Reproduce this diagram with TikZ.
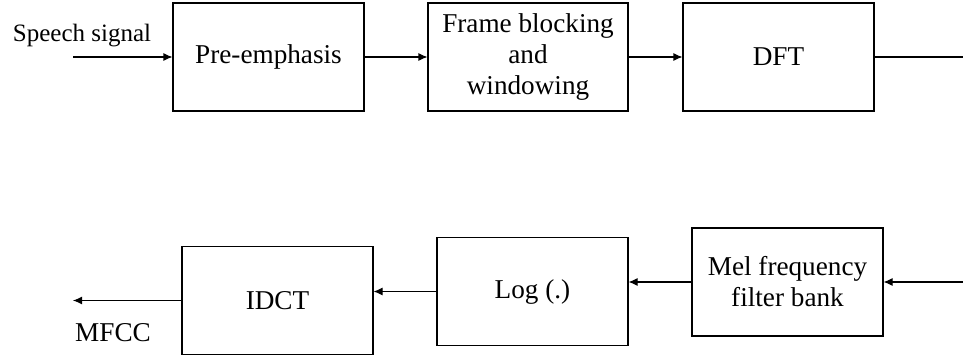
\documentclass[tikz,border=0pt]{standalone}
\usepackage{fontspec}
\setmainfont{Liberation Serif}
\usetikzlibrary{arrows.meta}
\tikzset{
	blk/.style={draw,line width=0.55pt,minimum width=95.5pt,minimum height=54pt,inner sep=0pt,align=center,font=\fontsize{13.6}{15.5}\selectfont},
	flow/.style={line width=0.55pt,-{Latex[length=4.5pt,width=4pt]}},
	lbl/.style={inner sep=0pt,font=\fontsize{13.6}{15.5}\selectfont}
}
\begin{document}
\begin{tikzpicture}[x=0.5pt,y=-0.5pt]
\useasboundingbox (0,0) rectangle (963,358);
\node[blk] (pre) at (268.5,57) {Pre-emphasis};
\node[blk,minimum width=100pt] (frame) at (528,57) {Frame blocking\\and\\windowing};
\node[blk] (dft) at (778.5,57) {DFT};
\node[blk] (mel) at (787.5,282) {Mel frequency\\filter bank};
\node[blk] (log) at (532.5,291.5) {Log (.)};
\node[blk] (idct) at (277.5,300.5) {IDCT};
\node[lbl,font=\fontsize{12.5}{14}\selectfont] (speech) at (82,36) {Speech signal};
\node[lbl] (mfcc) at (113,333) {MFCC};
\coordinate (in) at (73,57);
\coordinate (out) at (73,300.5);
\coordinate (edgea) at (963,57);
\coordinate (edgeb) at (963,282);
\draw[flow] (in) -- (pre);
\draw[flow] (pre) -- (frame);
\draw[flow] (frame) -- (dft);
\draw[line width=0.55pt] (dft) -- (edgea);
\draw[flow] (edgeb) -- (mel);
\draw[flow] (mel) -- (mel.west -| log.east);
\draw[flow] (log) -- (log.west -| idct.east);
\draw[flow] (idct) -- (out);
\end{tikzpicture}
\end{document}
